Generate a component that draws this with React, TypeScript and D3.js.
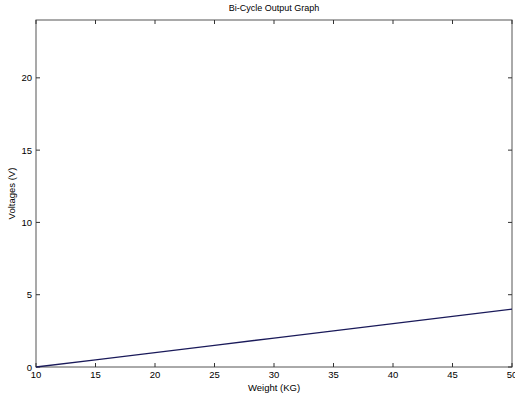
import React from "react";
import { scaleLinear, line } from "d3";

const weights = [10, 15, 20, 25, 30, 35, 40, 45, 50];
const voltages = [0, 0.5, 1, 1.5, 2, 2.5, 3, 3.5, 4];
const xTicks = [10, 15, 20, 25, 30, 35, 40, 45, 50];
const yTicks = [0, 5, 10, 15, 20];

const width = 515;
const height = 398;
const margin = { top: 20, right: 3, bottom: 31, left: 36 };

export default function App() {
  const x = scaleLinear().domain([10, 50]).range([margin.left, width - margin.right]);
  const y = scaleLinear().domain([0, 24]).range([height - margin.bottom, margin.top]);
  const path = line<number>()
    .x((d, i) => x(weights[i]))
    .y((d) => y(d))(voltages);

  const x0 = x(10), x1 = x(50), y0 = y(0), y1 = y(24);
  const font = "Arial, 'Liberation Sans', sans-serif";
  const tk = 4;

  return (
    <svg width={width} height={height} style={{ position: "absolute", left: 0, top: 0, background: "#fff" }}>
      <text x={(x0 + x1) / 2} y={11} textAnchor="middle" fontSize={9} fontFamily={font} fill="#000">
        Bi-Cycle Output Graph
      </text>
      <rect x={x0} y={y1} width={x1 - x0} height={y0 - y1} fill="none" stroke="#555" strokeWidth={1} />
      {xTicks.map((t) => (
        <g key={"x" + t}>
          <line x1={x(t)} x2={x(t)} y1={y0} y2={y0 - tk} stroke="#333" />
          <line x1={x(t)} x2={x(t)} y1={y1} y2={y1 + tk} stroke="#333" />
          <text x={x(t)} y={y0 + 11} textAnchor="middle" fontSize={9.5} fontFamily={font} fill="#000">
            {t}
          </text>
        </g>
      ))}
      {yTicks.map((t) => (
        <g key={"y" + t}>
          <line x1={x0} x2={x0 + tk} y1={y(t)} y2={y(t)} stroke="#333" />
          <line x1={x1} x2={x1 - tk} y1={y(t)} y2={y(t)} stroke="#333" />
          <text x={x0 - 4} y={y(t) + 3.5} textAnchor="end" fontSize={9.5} fontFamily={font} fill="#000">
            {t}
          </text>
        </g>
      ))}
      <path d={path ?? ""} fill="none" stroke="#1a1a5a" strokeWidth={1.3} />
      <text x={(x0 + x1) / 2} y={391} textAnchor="middle" fontSize={9.5} fontFamily={font} fill="#000">
        Weight (KG)
      </text>
      <text
        transform={`translate(15,${(y0 + y1) / 2}) rotate(-90)`}
        textAnchor="middle"
        fontSize={9.5}
        fontFamily={font}
        fill="#000"
      >
        Voltages (V)
      </text>
    </svg>
  );
}
